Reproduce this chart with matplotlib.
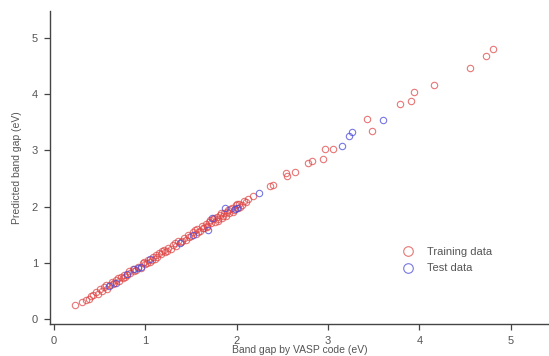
"""Predicted vs. VASP band gap parity plot (training / test split)."""

import matplotlib
matplotlib.use("Agg")
import matplotlib.pyplot as plt

# Training set: (VASP band gap, predicted band gap) in eV
train_x = [0.23, 0.31, 0.35, 0.38, 0.40, 0.43, 0.46, 0.48, 0.50, 0.52,
           0.55, 0.57, 0.58, 0.61, 0.63, 0.65, 0.66, 0.68, 0.70, 0.71,
           0.73, 0.75, 0.77, 0.78, 0.80, 0.82, 0.83, 0.86, 0.88, 0.90,
           0.92, 0.95, 0.97, 0.98, 1.00, 1.02, 1.03, 1.05, 1.07, 1.08,
           1.10, 1.12, 1.13, 1.15, 1.17, 1.18, 1.20, 1.22, 1.24, 1.25,
           1.28, 1.30, 1.32, 1.33, 1.36, 1.39, 1.40, 1.42, 1.45, 1.47,
           1.48, 1.50, 1.52, 1.54, 1.55, 1.57, 1.58, 1.60, 1.62, 1.63,
           1.64, 1.66, 1.67, 1.68, 1.70, 1.71, 1.72, 1.74, 1.75, 1.76,
           1.78, 1.79, 1.80, 1.82, 1.83, 1.84, 1.85, 1.86, 1.88, 1.89,
           1.90, 1.92, 1.93, 1.95, 1.96, 1.97, 1.99, 2.00, 2.01, 2.03,
           2.04, 2.06, 2.08, 2.10, 2.12, 2.18, 2.36, 2.40, 2.54, 2.55,
           2.64, 2.78, 2.82, 2.94, 2.97, 3.06, 3.43, 3.48, 3.79, 3.91,
           3.94, 4.16, 4.56, 4.73, 4.81]
train_y = [0.25, 0.30, 0.34, 0.36, 0.41, 0.42, 0.47, 0.44, 0.53, 0.50,
           0.56, 0.60, 0.53, 0.60, 0.66, 0.62, 0.64, 0.70, 0.73, 0.68,
           0.75, 0.72, 0.79, 0.74, 0.78, 0.86, 0.82, 0.88, 0.85, 0.87,
           0.93, 0.91, 0.99, 1.02, 0.97, 0.99, 1.04, 1.02, 1.05, 1.10,
           1.07, 1.14, 1.10, 1.18, 1.15, 1.21, 1.22, 1.19, 1.20, 1.27,
           1.25, 1.32, 1.35, 1.30, 1.38, 1.36, 1.39, 1.44, 1.41, 1.50,
           1.46, 1.47, 1.54, 1.58, 1.52, 1.60, 1.55, 1.57, 1.65, 1.62,
           1.61, 1.69, 1.63, 1.66, 1.73, 1.76, 1.70, 1.77, 1.80, 1.73,
           1.81, 1.74, 1.77, 1.85, 1.88, 1.80, 1.83, 1.88, 1.84, 1.90,
           1.93, 1.89, 1.96, 1.97, 1.90, 1.93, 2.02, 2.04, 1.98, 2.05,
           2.00, 2.03, 2.10, 2.08, 2.14, 2.18, 2.37, 2.39, 2.60, 2.54,
           2.61, 2.77, 2.81, 2.84, 3.02, 3.03, 3.56, 3.34, 3.82, 3.87,
           4.03, 4.16, 4.46, 4.68, 4.81]

# Test set
test_x = [0.60, 0.68, 0.80, 0.88, 0.92, 0.95, 1.05, 1.38, 1.52, 1.69,
          1.73, 1.87, 1.98, 2.00, 2.24, 3.15, 3.23, 3.26, 3.60]
test_y = [0.58, 0.64, 0.80, 0.88, 0.90, 0.92, 1.06, 1.35, 1.50, 1.58,
          1.79, 1.98, 1.95, 1.98, 2.24, 3.07, 3.26, 3.32, 3.54]

x_ticks = [0, 1, 2, 3, 4, 5]
y_ticks = [0, 1, 2, 3, 4, 5]

TEXT = "#555555"
AXIS = "#444444"

plt.rcParams["font.family"] = ["Liberation Sans", "DejaVu Sans"]
plt.rcParams["font.size"] = 8

fig = plt.figure(figsize=(5.49, 3.56), dpi=100)
ax = fig.add_axes([0.091, 0.09, 0.909, 0.879])

ax.plot(train_x, train_y, linestyle="none", marker="o", markersize=4.6,
        markerfacecolor="none", markeredgecolor="#e04848", markeredgewidth=0.8,
        alpha=0.75, label="Training data")
ax.plot(test_x, test_y, linestyle="none", marker="o", markersize=4.6,
        markerfacecolor="none", markeredgecolor="#4a4ad8", markeredgewidth=0.8,
        alpha=0.75, label="Test data")

ax.set_xlim(-0.045, 5.42)
ax.set_ylim(-0.09, 5.48)
ax.set_xticks(x_ticks)
ax.set_yticks(y_ticks)

for side in ("top", "right"):
    ax.spines[side].set_visible(False)
for side in ("left", "bottom"):
    ax.spines[side].set_color(AXIS)
    ax.spines[side].set_linewidth(1.0)
ax.tick_params(direction="out", length=4.5, width=0.9, color=AXIS,
               labelcolor=TEXT, labelsize=8)
ax.tick_params(axis="x", pad=4.5)
ax.tick_params(axis="y", pad=4)

ax.set_xlabel("Band gap by VASP code (eV)", color=TEXT, fontsize=7.5)
ax.set_ylabel("Predicted band gap (eV)", color=TEXT, fontsize=7.5)
ax.xaxis.set_label_coords(0.5, -0.066)
ax.yaxis.set_label_coords(-0.056, 0.5)

leg = ax.legend(loc="upper left", bbox_to_anchor=(0.706, 0.245), frameon=False,
                fontsize=8, borderpad=0, borderaxespad=0, handlelength=1.0,
                handletextpad=1.2, labelspacing=0.55, markerscale=1.5)
for t in leg.get_texts():
    t.set_color(TEXT)

fig.savefig("out.png", dpi=100)
